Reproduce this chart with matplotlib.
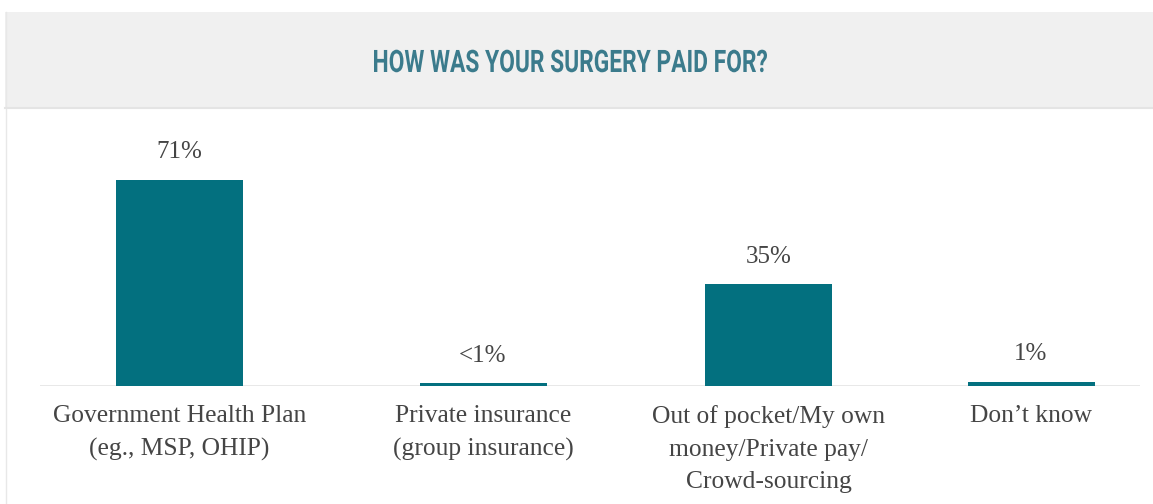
import matplotlib.pyplot as plt
from matplotlib.patches import Rectangle, PathPatch
from matplotlib.textpath import TextPath
from matplotlib.font_manager import FontProperties
from matplotlib.transforms import Affine2D

categories = ['Government Health Plan\n(eg., MSP, OHIP)',
              'Private insurance\n(group insurance)',
              'Out of pocket/My own\nmoney/Private pay/\nCrowd-sourcing',
              'Don\u2019t know']
values = [71, 0.9, 35, 1.5]
value_labels = ['71%', '<1%', '35%', '1%']
title = 'HOW WAS YOUR SURGERY PAID FOR?'

# layout (pixels of the 1153x504 image)
W, H = 1153, 504
positions = [179.5, 483, 768.5, 1031]
bar_w = 127
serif = 'Liberation Serif'
grey_text = '#454545'

fig = plt.figure(figsize=(W / 100, H / 100), dpi=100)

# background axes in pixel units (y measured from bottom)
bg = fig.add_axes([0, 0, 1, 1])
bg.set_xlim(0, W)
bg.set_ylim(0, H)
bg.axis('off')
bg.add_patch(Rectangle((5, H - 107), W - 5, 95, facecolor='#f0f0f0', edgecolor='none'))
bg.plot([5.5, 5.5], [0, H - 12], color='#e8e8e8', lw=1)
bg.plot([5, W], [H - 107.5, H - 107.5], color='#e4e4e4', lw=1.5)

# condensed bold title: squeeze a bold text path horizontally
tp = TextPath((0, 0), title, size=31, prop=FontProperties(family='Roboto', weight='bold'))
ext = tp.get_extents()
sx = 393 / ext.width
tr = Affine2D().translate(-ext.x0, 0).scale(sx, 1).translate(374, H - 72)
bg.add_patch(PathPatch(tr.transform_path(tp), facecolor='#3b7b8c', edgecolor='none'))

ax = fig.add_axes([40 / W, 1 - 386 / H, 1100 / W, 236 / H])
ax.set_xlim(40, 1140)
ax.set_ylim(0, 236 / 2.905)
ax.bar(positions, values, width=bar_w, color='#03707f', zorder=2)
ax.axhline(0, color='#e6e6e6', lw=2, zorder=1)
for s in ax.spines.values():
    s.set_visible(False)
ax.set_xticks([])
ax.set_yticks([])
ax.patch.set_alpha(0)

for x, v, t in zip(positions, values, value_labels):
    ax.annotate(t, (x, v), xytext=(0, 20), textcoords='offset points',
                ha='center', va='center', fontsize=18, family=serif, color=grey_text)

for x, c in zip(positions, categories):
    ax.annotate(c, (x, 0), xytext=(0, -14), textcoords='offset points',
                ha='center', va='top', fontsize=18.4, family=serif, color=grey_text,
                linespacing=1.6)

fig.savefig('out.png', dpi=100)
